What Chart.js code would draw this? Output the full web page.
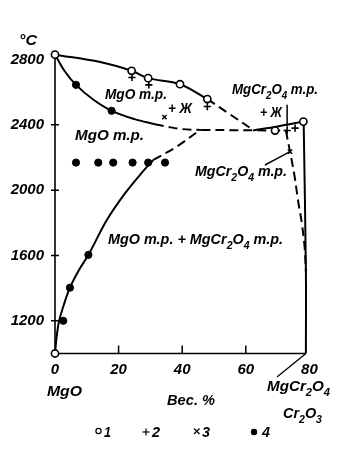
<!DOCTYPE html>
<html>
<head>
<meta charset="utf-8">
<script src="https://cdn.jsdelivr.net/npm/chart.js@4.4.1/dist/chart.umd.min.js"></script>
<style>
    html, body { margin: 0; padding: 0; background: #fff; }
    #diagram { display: block; }
</style>
</head>
<body>
<canvas id="diagram" width="358" height="449" style="width:358px;height:449px"></canvas>
<script>
"use strict";

// tick labels
const xTicks = [0, 20, 40, 60, 80];
const yTicks = [1200, 1600, 2000, 2400, 2800];

// curves (вес. % Cr2O3, °C)
const liquidusMgO = [[0, 2830], [14.2, 2785], [24.1, 2731], [29.3, 2686], [39.3, 2649], [47.9, 2558]];
const liquidusMgODash = [[47.9, 2558], [55, 2465], [62.3, 2369]];
const solidusMgO = [[0, 2830], [3, 2730], [6.6, 2645], [12, 2555], [17.8, 2486], [25, 2435], [31.4, 2404]];
const solidusMgODash = [[31.4, 2404], [35.5, 2388], [40, 2374], [46, 2369]];
const eutectic = [[46, 2369], [72.6, 2365]];
const liquidusSpinel = [[62.3, 2366], [70, 2390], [78.1, 2420]];
const solvusMgO = [[0, 1000], [0.5, 1100], [1.3, 1200], [2.8, 1300], [4.7, 1403], [7.5, 1510], [10.5, 1604],
    [16.3, 1817], [22, 1980], [27, 2100], [30.9, 2185]];
const solvusMgODash = [[30.9, 2185], [38.3, 2267], [45.6, 2369]];
const solvusSpinel = [[72.6, 2365], [73.9, 2236], [75.3, 2090], [76.4, 1940], [77.6, 1800], [78.5, 1650], [78.9, 1500]];
const spinelLine = [[78.9, 1000], [78.9, 1500], [78.2, 2415]];
const leaderTop = [[73, 2523], [73, 2388]];
const leaderMid = [[66, 2154], [73.9, 2236]];

// experimental points 1..4
const points1 = [[0, 2830], [24.1, 2731], [29.3, 2686], [39.3, 2649], [47.9, 2558], [69.2, 2365], [78.1, 2420], [0, 1000]];
const points2 = [[24.2, 2690], [29.5, 2645], [47.9, 2512], [73, 2365], [75.5, 2380]];
const points3 = [[34.4, 2447], [73.9, 2236]];
const points4 = [[6.6, 2645], [17.8, 2486],
    [6.6, 2169], [13.6, 2169], [18.3, 2169], [24.4, 2169], [29.3, 2169], [34.6, 2169],
    [2.6, 1200], [4.7, 1403], [10.5, 1604]];

const FONT = '"Liberation Sans", "DejaVu Sans", sans-serif';
const xy = (arr) => arr.map(([x, y]) => ({ x, y }));

function curve(data, dashed, width) {
    return {
        data: xy(data),
        showLine: true,
        borderColor: "#000",
        borderWidth: width || 2,
        borderDash: dashed ? [9, 5] : [],
        pointRadius: 0,
        tension: 0.35,
    };
}

function marks(data, style, radius, fill, bw) {
    return {
        data: xy(data),
        showLine: false,
        clip: false,
        pointStyle: style,
        pointRadius: radius,
        pointBackgroundColor: fill,
        pointBorderColor: "#000",
        pointBorderWidth: bw,
    };
}

// frame lines: axes, inward ticks and the slash under 80 (drawn as datasets)
function frame(data, width) {
    return {
        data: data,
        showLine: true,
        clip: false,
        spanGaps: false,
        borderColor: "#000",
        borderWidth: width,
        pointRadius: 0,
        tension: 0,
    };
}

const axisData = xy([[0, 2830], [0, 1000], [78.9, 1000]]);
const tickData = [];
xTicks.filter(v => v > 0 && v < 80).forEach(v => {
    tickData.push({ x: v, y: 1000 }, { x: v, y: 1049 }, { x: v, y: null });
});
yTicks.filter(v => v < 2800).forEach(v => {
    tickData.push({ x: -1.26, y: v }, { x: 1.26, y: v }, { x: 0, y: null });
});
const slashData = xy([[78.9, 1000], [69.8, 856]]);

// text with subscripts: parts = [[text, isSub], ...]
function rich(ctx, parts, left, base, size, width) {
    ctx.save();
    const big = `italic bold ${size}px ${FONT}`;
    const small = `italic bold ${Math.round(size * 0.7)}px ${FONT}`;
    let total = 0;
    parts.forEach(([t, s]) => { ctx.font = s ? small : big; total += ctx.measureText(t).width; });
    ctx.translate(left, base);
    if (width) ctx.scale(width / total, 1);
    let x = 0;
    parts.forEach(([t, s]) => {
        ctx.font = s ? small : big;
        ctx.fillText(t, x, s ? size * 0.3 : 0);
        x += ctx.measureText(t).width;
    });
    ctx.restore();
}

function seg(ctx, x1, y1, x2, y2) {
    ctx.beginPath();
    ctx.moveTo(x1, y1);
    ctx.lineTo(x2, y2);
    ctx.stroke();
}

const decor = {
    id: "decor",
    afterDraw(chart) {
        const ctx = chart.ctx;
        ctx.save();
        ctx.fillStyle = "#000";
        ctx.textBaseline = "alphabetic";
        const MgCr = [["MgCr", 0], ["2", 1], ["O", 0], ["4", 1]];
        rich(ctx, [["°C", 0]], 19, 45, 15, 18);
        rich(ctx, [["MgO т.р.", 0]], 105, 99, 15, 62);
        rich(ctx, [["+ Ж", 0]], 168, 113, 15, 24);
        rich(ctx, [["MgO т.р.", 0]], 75, 140, 15, 69);
        rich(ctx, MgCr.concat([[" т.р.", 0]]), 232, 94, 15, 86);
        rich(ctx, [["+ Ж", 0]], 260, 117, 15, 22);
        rich(ctx, MgCr.concat([[" т.р.", 0]]), 195, 176, 15, 92);
        rich(ctx, [["MgO т.р. + ", 0]].concat(MgCr, [[" т.р.", 0]]), 108, 244, 15, 175);
        rich(ctx, [["MgO", 0]], 47, 396, 15, 35);
        rich(ctx, [["Вес. %", 0]], 167, 405, 15, 48);
        rich(ctx, MgCr, 267, 391, 15, 63);
        rich(ctx, [["Cr", 0], ["2", 1], ["O", 0], ["3", 1]], 283, 418, 15, 39);
        rich(ctx, [["1", 0]], 104, 437, 14, 7);
        rich(ctx, [["2", 0]], 152, 437, 14, 8);
        rich(ctx, [["3", 0]], 202, 437, 14, 8);
        rich(ctx, [["4", 0]], 262, 437, 14, 8);

        // legend marks
        ctx.setLineDash([]);
        ctx.strokeStyle = "#000";
        ctx.lineWidth = 1.2;
        ctx.beginPath();
        ctx.arc(98.5, 431, 2.6, 0, Math.PI * 2);
        ctx.stroke();
        seg(ctx, 142.5, 432, 149.5, 432);
        seg(ctx, 146, 428.5, 146, 435.5);
        seg(ctx, 194, 428.5, 199.5, 434);
        seg(ctx, 199.5, 428.5, 194, 434);
        ctx.beginPath();
        ctx.arc(254, 432, 3.2, 0, Math.PI * 2);
        ctx.fill();
        ctx.restore();
    },
};

const tickFont = { family: FONT, size: 15, style: "italic", weight: "bold" };

new Chart(document.getElementById("diagram"), {
    type: "scatter",
    data: {
        datasets: [
            marks(points1, "circle", 3.6, "#fff", 1.6),
            marks(points2, "cross", 3.6, "#000", 1.6),
            marks(points3, "crossRot", 3, "#000", 1.4),
            marks(points4, "circle", 3.6, "#000", 1),
            curve(liquidusMgO, false),
            curve(liquidusMgODash, true),
            curve(solidusMgO, false),
            curve(solidusMgODash, true),
            curve(eutectic, true),
            curve(liquidusSpinel, false),
            curve(solvusMgO, false),
            curve(solvusMgODash, true),
            curve(solvusSpinel, true),
            curve(spinelLine, false),
            curve(leaderTop, false, 1.5),
            curve(leaderMid, false, 1.5),
            frame(axisData, 1.6),
            frame(tickData, 1.5),
            frame(slashData, 1.3),
        ],
    },
    options: {
        responsive: false,
        animation: false,
        layout: { padding: { top: 53, right: 48.6, left: 0, bottom: 0 } },
        plugins: { legend: { display: false }, tooltip: { enabled: false } },
        scales: {
            x: {
                type: "linear",
                min: 0,
                max: 80,
                afterBuildTicks: (s) => { s.ticks = xTicks.map(v => ({ value: v })); },
                afterFit: (s) => { s.height = 95.5; },
                grid: { display: true, drawOnChartArea: false, drawTicks: false, color: "rgba(0,0,0,0)" },
                border: { display: false },
                ticks: {
                    color: "#000",
                    padding: 7,
                    maxRotation: 0,
                    callback: (v) => String(v),
                    font: tickFont,
                },
            },
            y: {
                type: "linear",
                min: 1000,
                max: 2840,
                afterBuildTicks: (s) => { s.ticks = yTicks.map(v => ({ value: v })); },
                afterFit: (s) => { s.width = 55; },
                grid: { display: true, drawOnChartArea: false, drawTicks: false, color: "rgba(0,0,0,0)" },
                border: { display: false },
                ticks: {
                    color: "#000",
                    padding: 11,
                    callback: (v) => String(v),
                    font: tickFont,
                },
            },
        },
    },
    plugins: [decor],
});
</script>
</body>
</html>
